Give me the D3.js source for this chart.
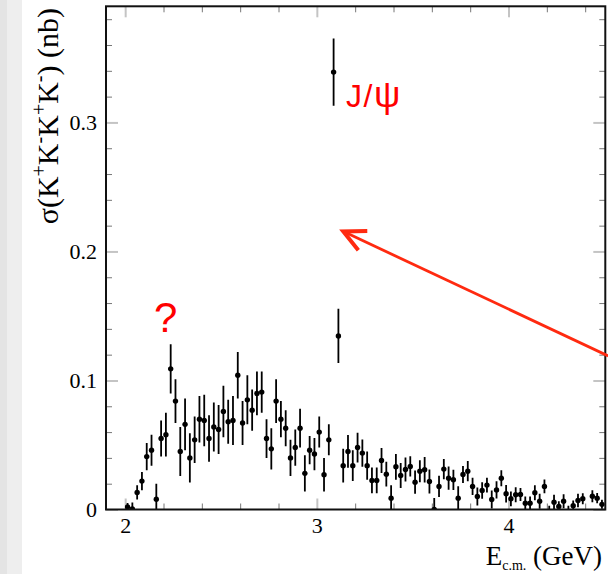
<!DOCTYPE html>
<html>
<head>
<meta charset="utf-8">
<script src="https://cdn.jsdelivr.net/npm/d3@7"></script>
<style>
  body { margin: 0; background: #fff; }
  svg { display: block; }
</style>
</head>
<body>
<div id="graph"></div>
<script>
// cross section data (25 MeV bins, one empty bin skipped)
var energies = [
  2.0125, 2.0375, 2.0625, 2.0875, 2.1125, 2.1375, 2.1625, 2.1875, 2.2125, 2.2375,
  2.2625, 2.2875, 2.3125, 2.3375, 2.3625, 2.3875, 2.4125, 2.4375, 2.4625, 2.4875,
  2.5125, 2.5375, 2.5625, 2.5875, 2.6125, 2.6375, 2.6625, 2.6875, 2.7125, 2.7375,
  2.7625, 2.7875, 2.8125, 2.8375, 2.8625, 2.8875, 2.9125, 2.9375, 2.9625, 2.9875,
  3.0125, 3.0375, 3.0625, 3.0875, 3.1125, 3.1375, 3.1625, 3.1875, 3.2125, 3.2375,
  3.2625, 3.2875, 3.3125, 3.3375, 3.3625, 3.3875, 3.4125, 3.4375, 3.4625, 3.4875,
  3.5125, 3.5375, 3.5625, 3.5875, 3.6125, 3.6375, 3.6625, 3.6875, 3.7125, 3.7375,
  3.7625, 3.7875, 3.8125, 3.8375, 3.8625, 3.8875, 3.9125, 3.9375, 3.9625, 3.9875,
  4.0125, 4.0375, 4.0625, 4.0875, 4.1125, 4.1375, 4.1625, 4.1875, 4.2125, 4.2375,
  4.2625, 4.2875, 4.3125, 4.3375, 4.3625, 4.3875, 4.4375, 4.4625, 4.4875
];
var sigma = [
  0.002, 0.0005, 0.0132, 0.022, 0.041, 0.046, 0.008, 0.055, 0.058, 0.109,
  0.084, 0.045, 0.066, 0.040, 0.054, 0.070, 0.069, 0.055, 0.064, 0.062,
  0.076, 0.068, 0.069, 0.104, 0.067, 0.085, 0.077, 0.090, 0.091, 0.055,
  0.047, 0.084, 0.070, 0.063, 0.040, 0.048, 0.063, 0.028, 0.046, 0.043,
  0.060, 0.027, 0.054, 0.339, 0.1345, 0.034, 0.045, 0.034, 0.048, 0.0437,
  0.034, 0.0225, 0.0225, 0.038, 0.0274, 0.0088, 0.0331, 0.0264, 0.031, 0.0334,
  0.0212, 0.0297, 0.0308, 0.0217, 0.0, 0.0179, 0.0313, 0.0243, 0.023, 0.0088,
  0.0272, 0.0297, 0.0179, 0.0101, 0.0147, 0.0189, 0.0078, 0.0152, 0.0243, 0.0122,
  0.0083, 0.0114, 0.0116, 0.0049, 0.0049, 0.013, 0.0064, 0.0179, -0.002, 0.0057,
  0.0023, 0.0064, -0.002, 0.003, 0.007, 0.0083, 0.0103, 0.0088, 0.004
];
var sigmaErr = [
  0.003, 0.005, 0.0055, 0.007, 0.0105, 0.012, 0.012, 0.014, 0.017, 0.019,
  0.017, 0.019, 0.020, 0.019, 0.018, 0.018, 0.020, 0.018, 0.019, 0.019,
  0.020, 0.017, 0.019, 0.018, 0.017, 0.019, 0.016, 0.017, 0.016, 0.015,
  0.016, 0.017, 0.014, 0.014, 0.014, 0.014, 0.015, 0.014, 0.011, 0.0125,
  0.012, 0.013, 0.012, 0.026, 0.021, 0.013, 0.0127, 0.012, 0.0115, 0.0106,
  0.011, 0.010, 0.010, 0.0097, 0.0096, 0.010, 0.010, 0.0097, 0.0093, 0.0078,
  0.009, 0.0085, 0.0099, 0.0093, 0.009, 0.0082, 0.0078, 0.009, 0.0078, 0.0093,
  0.0066, 0.0078, 0.0067, 0.007, 0.0064, 0.0058, 0.007, 0.0067, 0.0062, 0.0067,
  0.0057, 0.0058, 0.005, 0.0052, 0.0052, 0.0058, 0.0058, 0.0054, 0.005, 0.0058,
  0.004, 0.0054, 0.005, 0.004, 0.0052, 0.0043, 0.0047, 0.0039, 0.0035
];

var xMajorTicks = [2, 3, 4];
var xMinorTicks = [2.2, 2.4, 2.6, 2.8, 3.2, 3.4, 3.6, 3.8, 4.2, 4.4];
var yMajorTicks = [0, 0.1, 0.2, 0.3];
var yMinorTicks = [0.02, 0.04, 0.06, 0.08, 0.12, 0.14, 0.16, 0.18, 0.22, 0.24, 0.26, 0.28, 0.32, 0.34, 0.36, 0.38];

// annotation: arrow pointing at the J/psi region (data coords)
var arrowFrom = [4.52, 0.119];
var arrowTo = [3.138, 0.2155];

var W = 608, H = 574;
var frame = {left: 106, right: 605.3, top: 6.3, bottom: 509.5};

var svg = d3.select("#graph").append("svg")
    .attr("width", W)
    .attr("height", H);

// grey strip on the far left
svg.append("rect").attr("x", 0).attr("y", 0).attr("width", 22).attr("height", H).attr("fill", "#eeeeee");
svg.append("rect").attr("x", 0).attr("y", 0).attr("width", 7).attr("height", H).attr("fill", "#e4e4e4");

var x = d3.scaleLinear().domain([1.9, 4.505]).range([frame.left, frame.right]);
var y = d3.scaleLinear().domain([0, 0.39]).range([frame.bottom, frame.top]);

var serif = "'Liberation Serif', 'Times New Roman', serif";
var sans = "'Liberation Sans', Arial, Helvetica, sans-serif";

function styleTicks(g, color, width) {
    g.select(".domain").remove();
    g.selectAll(".tick line").attr("stroke", color).attr("stroke-width", width);
    g.selectAll(".tick text")
        .attr("font-family", serif)
        .attr("font-size", 22)
        .attr("fill", "#000");
}

// bottom axis (ticks point inward)
svg.append("g")
    .attr("transform", "translate(0," + frame.bottom + ")")
    .call(d3.axisBottom(x).tickValues(xMajorTicks).tickSize(-11).tickPadding(8).tickFormat(function (d) { return d; }))
    .call(styleTicks, "#c4c4c4", 2);
svg.append("g")
    .attr("transform", "translate(0," + frame.bottom + ")")
    .call(d3.axisBottom(x).tickValues(xMinorTicks).tickSize(-6).tickFormat(""))
    .call(styleTicks, "#777", 1);

// top axis
svg.append("g")
    .attr("transform", "translate(0," + frame.top + ")")
    .call(d3.axisTop(x).tickValues(xMajorTicks).tickSize(-11).tickFormat(""))
    .call(styleTicks, "#c4c4c4", 2);
svg.append("g")
    .attr("transform", "translate(0," + frame.top + ")")
    .call(d3.axisTop(x).tickValues(xMinorTicks).tickSize(-6).tickFormat(""))
    .call(styleTicks, "#777", 1);

// left axis
svg.append("g")
    .attr("transform", "translate(" + frame.left + ",0)")
    .call(d3.axisLeft(y).tickValues(yMajorTicks).tickSize(-12).tickPadding(9).tickFormat(function (d) { return d; }))
    .call(styleTicks, "#c4c4c4", 2);
svg.append("g")
    .attr("transform", "translate(" + frame.left + ",0)")
    .call(d3.axisLeft(y).tickValues(yMinorTicks).tickSize(-6).tickFormat(""))
    .call(styleTicks, "#777", 1);

// right axis
svg.append("g")
    .attr("transform", "translate(" + frame.right + ",0)")
    .call(d3.axisRight(y).tickValues(yMajorTicks).tickSize(-12).tickFormat(""))
    .call(styleTicks, "#c4c4c4", 2);
svg.append("g")
    .attr("transform", "translate(" + frame.right + ",0)")
    .call(d3.axisRight(y).tickValues(yMinorTicks).tickSize(-6).tickFormat(""))
    .call(styleTicks, "#777", 1);

// clip data to the frame
svg.append("clipPath").attr("id", "plotclip")
    .append("rect")
    .attr("x", frame.left).attr("y", frame.top)
    .attr("width", frame.right - frame.left)
    .attr("height", frame.bottom - frame.top);

var points = energies.map(function (e, i) {
    return {e: e, s: sigma[i], err: sigmaErr[i]};
});

var data = svg.append("g").attr("clip-path", "url(#plotclip)");

data.selectAll(".errbar")
    .data(points)
    .enter().append("line")
    .attr("class", "errbar")
    .attr("x1", function (d) { return x(d.e); })
    .attr("x2", function (d) { return x(d.e); })
    .attr("y1", function (d) { return y(d.s - d.err); })
    .attr("y2", function (d) { return y(d.s + d.err); })
    .attr("stroke", "#000")
    .attr("stroke-width", 1.8);

data.selectAll(".dot")
    .data(points)
    .enter().append("circle")
    .attr("class", "dot")
    .attr("cx", function (d) { return x(d.e); })
    .attr("cy", function (d) { return y(d.s); })
    .attr("r", 2.7)
    .attr("fill", "#000");

// frame
svg.append("rect")
    .attr("x", frame.left).attr("y", frame.top)
    .attr("width", frame.right - frame.left)
    .attr("height", frame.bottom - frame.top)
    .attr("fill", "none")
    .attr("stroke", "#111")
    .attr("stroke-width", 2);

// y axis title
var yt = svg.append("text")
    .attr("transform", "translate(58,8) rotate(-90)")
    .attr("text-anchor", "end")
    .attr("font-family", serif)
    .attr("font-size", 30)
    .attr("fill", "#000");
yt.append("tspan").text("\u03c3(K");
yt.append("tspan").attr("dy", -12).attr("font-size", 20).text("+");
yt.append("tspan").attr("dy", 12).text("K");
yt.append("tspan").attr("dy", -12).attr("font-size", 20).text("-");
yt.append("tspan").attr("dy", 12).text("K");
yt.append("tspan").attr("dy", -12).attr("font-size", 20).text("+");
yt.append("tspan").attr("dy", 12).text("K");
yt.append("tspan").attr("dy", -12).attr("font-size", 20).text("-");
yt.append("tspan").attr("dy", 12).text(") (nb)");

// x axis title, sitting low at the bottom edge
var xt = svg.append("text")
    .attr("x", 602).attr("y", 565)
    .attr("text-anchor", "end")
    .attr("font-family", serif)
    .attr("font-size", 27)
    .attr("fill", "#000");
xt.append("tspan").text("E");
xt.append("tspan").attr("dy", 5).attr("font-size", 14).text("c.m.");
xt.append("tspan").attr("dy", -5).text(" (GeV)");

// annotations
var jp = svg.append("text")
    .attr("x", 346).attr("y", 107)
    .attr("font-family", sans)
    .attr("font-size", 32)
    .attr("letter-spacing", 1.5)
    .attr("fill", "#ff0000");
jp.append("tspan").text("J/");
jp.append("tspan").attr("font-size", 37).text("\u03c8");

svg.append("text")
    .attr("x", 154).attr("y", 331.5)
    .attr("font-family", sans)
    .attr("font-size", 42)
    .attr("fill", "#ff0000")
    .text("?");

var ax0 = x(arrowFrom[0]), ay0 = y(arrowFrom[1]);
var ax1 = x(arrowTo[0]), ay1 = y(arrowTo[1]);
var ang = Math.atan2(ay0 - ay1, ax0 - ax1);
var headLen = 24, headAng = 26 * Math.PI / 180;
svg.append("line")
    .attr("x1", ax0).attr("y1", ay0)
    .attr("x2", ax1 + 2 * Math.cos(ang)).attr("y2", ay1 + 2 * Math.sin(ang))
    .attr("stroke", "#ff2a10")
    .attr("stroke-width", 2.8);
svg.append("path")
    .attr("d", "M" + (ax1 + headLen * Math.cos(ang - headAng)) + "," + (ay1 + headLen * Math.sin(ang - headAng)) +
        "L" + ax1 + "," + ay1 +
        "L" + (ax1 + headLen * Math.cos(ang + headAng)) + "," + (ay1 + headLen * Math.sin(ang + headAng)))
    .attr("fill", "none")
    .attr("stroke", "#ff2a10")
    .attr("stroke-width", 4)
    .attr("stroke-linejoin", "miter");
</script>
</body>
</html>
